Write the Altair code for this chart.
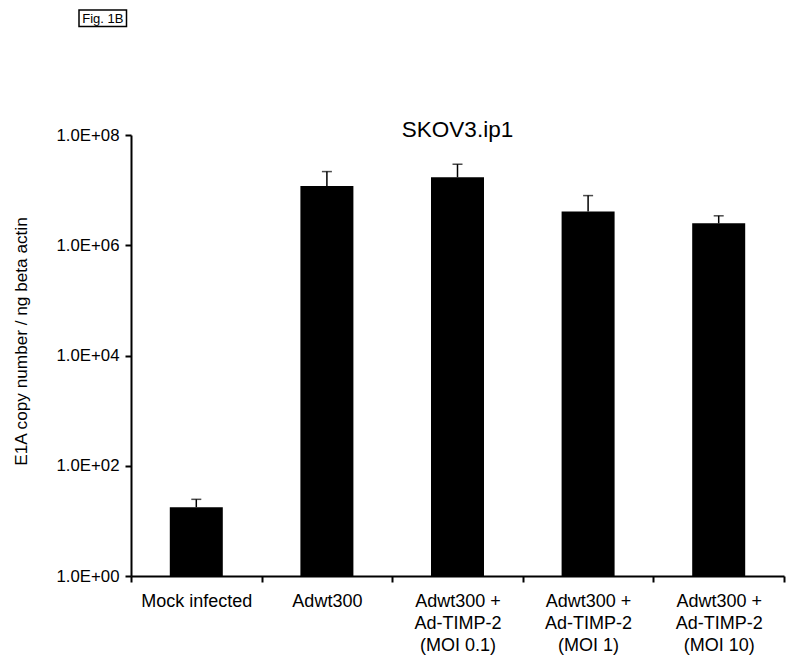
import altair as alt
import pandas as pd

categories = [
    "Mock infected",
    "Adwt300",
    "Adwt300 +|Ad-TIMP-2|(MOI 0.1)",
    "Adwt300 +|Ad-TIMP-2|(MOI 1)",
    "Adwt300 +|Ad-TIMP-2|(MOI 10)",
]
means = [17.7, 1.19e7, 1.71e7, 4.1e6, 2.5e6]
uppers = [24.6, 2.17e7, 2.95e7, 7.96e6, 3.42e6]
y_ticks = [1, 1e2, 1e4, 1e6, 1e8]

chart_title = "SKOV3.ip1"
fig_label = "Fig. 1B"
y_title = "E1A copy number / ng beta actin"

W, H = 653, 441
FONT = "Liberation Sans"

df = pd.DataFrame({"cat": categories, "mean": means, "upper": uppers})

x_enc = alt.X(
    "cat:N",
    sort=categories,
    scale=alt.Scale(paddingInner=0, paddingOuter=0),
    axis=alt.Axis(
        title=None,
        labelAngle=0,
        labelExpr="split(datum.label, '|')",
        labelFont=FONT,
        labelFontSize=18,
        labelColor="black",
        labelLineHeight=22,
        labelPadding=10,
        labelBaseline="top",
        tickBand="extent",
        tickSize=6,
        tickWidth=2,
        tickColor="black",
        domainColor="black",
        domainWidth=2,
        grid=False,
    ),
)

y_scale = alt.Scale(type="log", domain=[1, 1e8], nice=False)

bars = alt.Chart(df).mark_bar(size=53, color="black").encode(
    x=x_enc,
    y=alt.Y(
        "mean:Q",
        scale=y_scale,
        axis=alt.Axis(
            title=y_title,
            values=y_ticks,
            labelExpr="'1.0E+0' + round(log(datum.value) / LN10)",
            labelFont=FONT,
            labelFontSize=16.8,
            labelColor="black",
            labelPadding=6,
            tickSize=6,
            tickWidth=2,
            tickColor="black",
            domainColor="black",
            domainWidth=2,
            grid=False,
            titleFont=FONT,
            titleFontSize=17.2,
            titleFontWeight="normal",
            titleColor="black",
            titleX=-109.5,
            titleY=206,
            titleAlign="center",
            titleBaseline="middle",
            titleAngle=-90,
        ),
    ),
    y2=alt.datum(1),
)

err = alt.Chart(df).mark_rule(color="black", strokeWidth=1.5).encode(
    x=alt.X("cat:N", sort=categories),
    y=alt.Y("mean:Q", scale=y_scale),
    y2="upper:Q",
)

caps = alt.Chart(df).mark_tick(color="black", size=10, thickness=1.5).encode(
    x=alt.X("cat:N", sort=categories),
    y=alt.Y("upper:Q", scale=y_scale),
)

tdf = pd.DataFrame({"t": [chart_title]})
title_mark = alt.Chart(tdf).mark_text(
    font=FONT, fontSize=22.5, color="black", baseline="alphabetic", align="center"
).encode(x=alt.value(W / 2), y=alt.value(2), text="t:N")

fdf = pd.DataFrame({"t": [fig_label]})
fig_box = alt.Chart(fdf).mark_rect(
    fill="white", stroke="black", strokeWidth=1.5
).encode(x=alt.value(-52), x2=alt.value(-4.5), y=alt.value(-125), y2=alt.value(-108.5))
fig_text = alt.Chart(fdf).mark_text(
    font=FONT, fontSize=13, color="black", baseline="middle", align="center"
).encode(x=alt.value(-28.2), y=alt.value(-116.5), text="t:N")

chart = (
    alt.layer(bars, err, caps, title_mark, fig_box, fig_text)
    .properties(
        width=W,
        height=H,
        autosize=alt.AutoSizeParams(type="none"),
        padding={"left": 123, "top": 127, "right": 8, "bottom": 83},
        background="white",
    )
    .configure_view(strokeWidth=0)
)

chart.save("out.html", embed_options={"renderer": "svg", "actions": False})
